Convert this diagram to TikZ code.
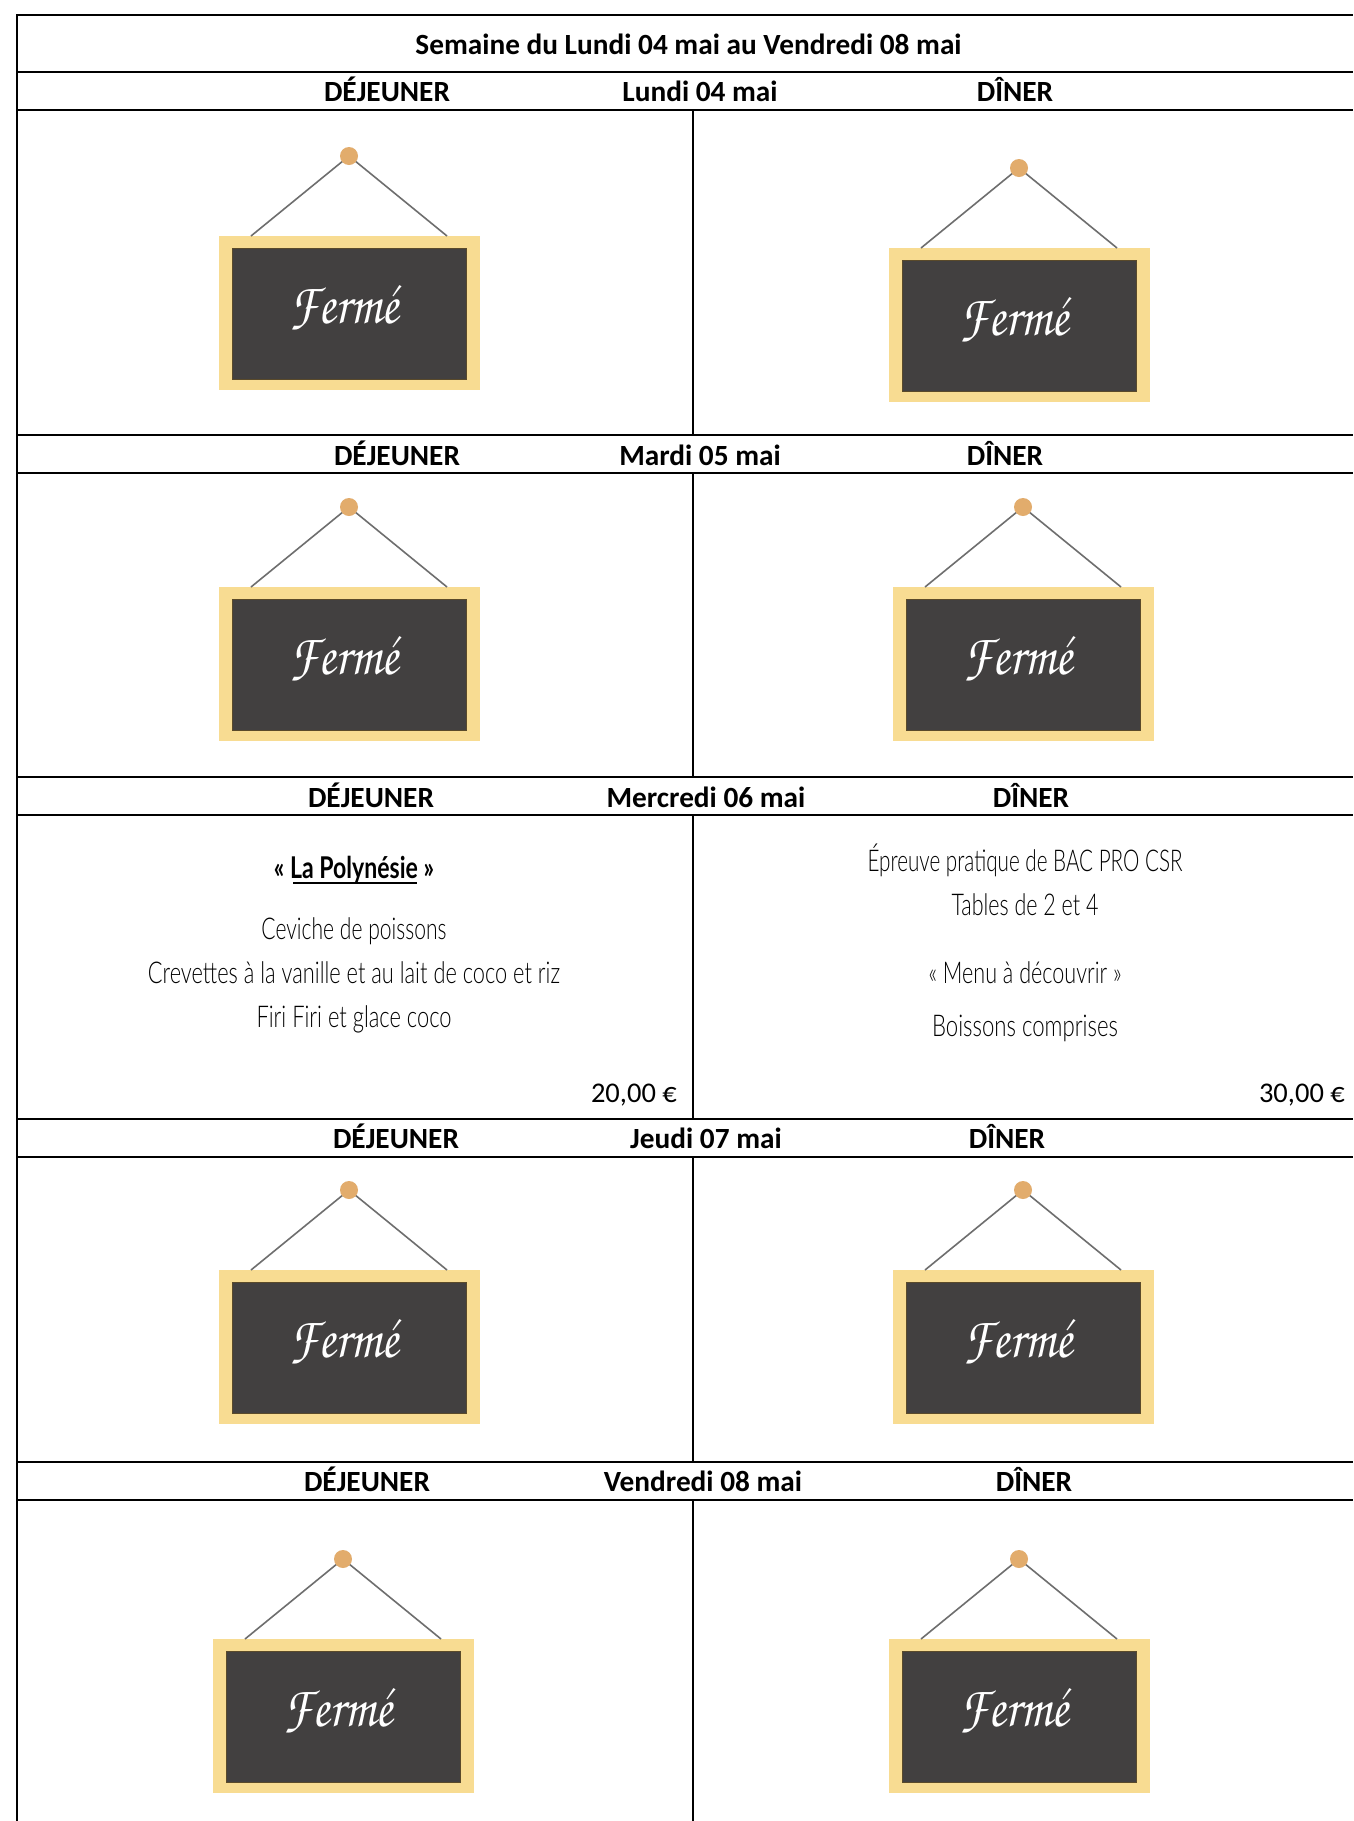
\documentclass[tikz,border=0pt]{standalone}
\usepackage[T1,TU]{fontenc}
\usepackage{fontspec}
\setmainfont{Carlito}
\newfontfamily\thinfont[UprightFont=* Light,BoldFont=* Bold]{Lato}
\newcommand{\cond}[2]{\resizebox{#1pt}{\height}{\thinfont #2}}
\newcommand{\chalkfont}{\fontencoding{T1}\fontfamily{pzc}\fontseries{mb}\fontshape{it}\selectfont}
\definecolor{frameC}{HTML}{F8DC92}
\definecolor{slateC}{HTML}{424040}
\definecolor{edgeC}{HTML}{5A4A2A}
\definecolor{nailC}{HTML}{E2AC6C}
\definecolor{stringC}{HTML}{6E6E6E}
\tikzset{
  x=1pt,y=-1pt,
  rule/.style={line width=2pt,black},
  divider/.style={line width=1.5pt,black},
  head/.style={font=\fontsize{29.3}{32}\selectfont\bfseries,inner sep=0pt,text height=18pt,text depth=0pt,anchor=center},
  lighttext/.style={font=\fontsize{30}{32}\selectfont,inner sep=0pt,text height=22pt,text depth=0pt,anchor=center},
  price/.style={font=\fontsize{28.5}{32}\selectfont,inner sep=0pt,anchor=east,text height=18pt,text depth=0pt},
  pics/sign/.style={code={
    \fill[frameC] (-130.5,0) rectangle (130.5,154);
    \filldraw[fill=slateC,draw=edgeC,line width=0.8pt] (-117,12) rectangle (117,143);
    \draw[stringC,line width=1.6pt] (-98,0) -- (0,-80) -- (98,0);
    \fill[nailC] (0,-80) ellipse (9 and 9);
    \node[white,inner sep=0pt,anchor=base,font=\fontsize{58}{58}\selectfont\chalkfont] (-txt) at (-5,87) {\resizebox{110pt}{\height}{Ferm\'e}};
  }}
}
\begin{document}
\begin{tikzpicture}
\useasboundingbox (0,0) rectangle (1353,1821);
\fill[white] (0,0) rectangle (1353,1821);
% frame and rows
\draw[rule] (17,1821) -- (17,15) -- (1353,15);
\foreach \y in {72,110,435,473,777,815,1119,1157,1462,1500}
  \draw[rule] (17,\y) -- (1353,\y);
\draw[divider] (693,110) -- (693,435);
\draw[divider] (693,473) -- (693,777);
\draw[divider] (693,815) -- (693,1119);
\draw[divider] (693,1157) -- (693,1462);
\draw[divider] (693,1500) -- (693,1821);
% headers
\node[head] (title) at (688.5,45) {Semaine du Lundi 04 mai au Vendredi 08 mai};
\node[head] (d1) at (387,92) {DÉJEUNER};
\node[head] (j1) at (700,92) {Lundi 04 mai};
\node[head] (s1) at (1015,92) {DÎNER};
\node[head] (d2) at (397,456) {DÉJEUNER};
\node[head] (j2) at (700,456) {Mardi 05 mai};
\node[head] (s2) at (1005,456) {DÎNER};
\node[head] (d3) at (371,798) {DÉJEUNER};
\node[head] (j3) at (706,798) {Mercredi 06 mai};
\node[head] (s3) at (1031,798) {DÎNER};
\node[head] (d4) at (396,1139) {DÉJEUNER};
\node[head] (j4) at (706,1139) {Jeudi 07 mai};
\node[head] (s4) at (1007,1139) {DÎNER};
\node[head] (d5) at (367,1482) {DÉJEUNER};
\node[head] (j5) at (703,1482) {Vendredi 08 mai};
\node[head] (s5) at (1034,1482) {DÎNER};
% signs
\pic (a) at (349,236) {sign};
\pic (b) at (1019,248) {sign};
\pic (c) at (349,587) {sign};
\pic (e) at (1023,587) {sign};
\pic (f) at (349,1270) {sign};
\pic (g) at (1023,1270) {sign};
\pic (h) at (343,1639) {sign};
\pic (i) at (1019,1639) {sign};
% Wednesday menu
\node[lighttext] (m1) at (354,867) {\cond{160}{\bfseries « La Polynésie »}};
\coordinate (ulA) at (293,883);
\coordinate (ulB) at (417,883);
\draw[line width=2pt] (ulA) -- (ulB);
\node[lighttext] (m2) at (354,928) {\cond{185}{Ceviche de poissons}};
\node[lighttext] (m3) at (354,972) {\cond{412}{Crevettes à la vanille et au lait de coco et riz}};
\node[lighttext] (m4) at (354,1016) {\cond{195}{Firi Firi et glace coco}};
\node[lighttext] (n1) at (1025,860) {\cond{315}{Épreuve pratique de BAC PRO CSR}};
\node[lighttext] (n2) at (1025,904) {\cond{147}{Tables de 2 et 4}};
\node[lighttext] (n3) at (1025,972) {\cond{193}{« Menu à découvrir »}};
\node[lighttext] (n4) at (1025,1025) {\cond{186}{Boissons comprises}};
\node[price] (p1) at (677,1093) {20,00 €};
\node[price] (p2) at (1345,1093) {30,00 €};
\end{tikzpicture}
\end{document}
